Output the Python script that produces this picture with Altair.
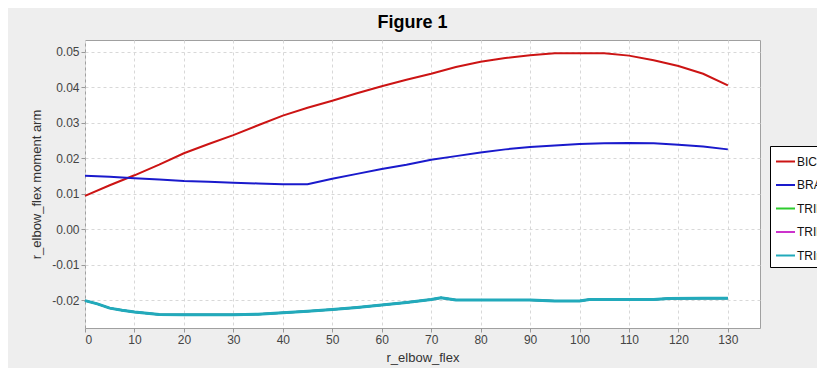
import altair as alt
import pandas as pd

# ---- data ----
x_main = [0, 5, 10, 15, 20, 25, 30, 35, 40, 45, 50, 55, 60, 65, 70, 75, 80, 85, 90,
          95, 100, 105, 110, 115, 120, 125, 130]
bic = [0.0094, 0.0124, 0.0152, 0.0182, 0.0214, 0.0240, 0.0265, 0.0293, 0.0320, 0.0342,
       0.0362, 0.0383, 0.0403, 0.0421, 0.0438, 0.0457, 0.0472, 0.0482, 0.0490, 0.0496,
       0.0496, 0.0496, 0.0489, 0.0476, 0.0460, 0.0438, 0.0405]
bra = [0.0151, 0.0148, 0.0144, 0.0140, 0.0136, 0.0134, 0.0131, 0.0129, 0.0127, 0.0127,
       0.0142, 0.0156, 0.0170, 0.0182, 0.0196, 0.0206, 0.0216, 0.0225, 0.0232, 0.0236,
       0.0240, 0.0242, 0.0243, 0.0242, 0.0238, 0.0233, 0.0225]
x_tri = [0, 2.5, 5, 7.5, 10, 15, 20, 25, 30, 35, 40, 45, 50, 55, 60, 65, 70, 72, 75,
         80, 85, 90, 95, 100, 102, 110, 115, 118, 125, 130]
tri = [-0.0201, -0.0210, -0.0222, -0.0228, -0.0233, -0.0240, -0.0241, -0.0241, -0.0241,
       -0.0239, -0.0235, -0.0231, -0.0226, -0.0220, -0.0213, -0.0206, -0.0198, -0.0193,
       -0.0199, -0.0199, -0.0199, -0.0199, -0.0202, -0.0202, -0.0198, -0.0198, -0.0198,
       -0.0195, -0.0194, -0.0194]

series_names = ["BIClong", "BRA", "TRIlong", "TRIlat", "TRImed"]
series_colors = ["#cc1414", "#1a1acc", "#2ecc2e", "#cc33cc", "#22aabb"]
x_ticks = list(range(0, 131, 10))
y_ticks = [-0.02, -0.01, 0.0, 0.01, 0.02, 0.03, 0.04, 0.05]

rows = []
for xv, yv in zip(x_main, bic):
    rows.append({"x": xv, "y": yv, "series": "BIClong"})
for xv, yv in zip(x_main, bra):
    rows.append({"x": xv, "y": yv, "series": "BRA"})
for name in ["TRIlong", "TRIlat", "TRImed"]:
    for xv, yv in zip(x_tri, tri):
        rows.append({"x": xv, "y": yv, "series": name})
df = pd.DataFrame(rows)

FONT = "Liberation Sans"

x_enc = alt.X("x:Q", title="r_elbow_flex",
              scale=alt.Scale(domain=[0, 136.5], nice=False, zero=False),
              axis=alt.Axis(values=x_ticks, format="d", grid=True))
y_enc = alt.Y("y:Q", title="r_elbow_flex moment arm",
              scale=alt.Scale(domain=[-0.0278, 0.0533], nice=False, zero=False),
              axis=alt.Axis(values=y_ticks,
                            labelExpr="replace(format(datum.value, '.2f'), '\u2212', '-')",
                            grid=True))
color_enc = alt.Color("series:N",
                      scale=alt.Scale(domain=series_names, range=series_colors),
                      legend=alt.Legend(title=None, orient="none", legendX=685, legendY=106,
                                        symbolType="stroke", symbolSize=361,
                                        symbolStrokeWidth=2, labelFontSize=12,
                                        labelFont=FONT, labelColor="#111111",
                                        rowPadding=6.5, padding=5, labelOffset=1,
                                        strokeColor="#000000", fillColor="#ffffff",
                                        labelLimit=200, symbolOffset=0))

base = alt.Chart(df).mark_line(strokeWidth=2).encode(
    x=x_enc, y=y_enc, color=color_enc, detail="series:N"
)
top = alt.Chart(df).transform_filter(alt.datum.series == "TRImed").mark_line(strokeWidth=3).encode(
    x=x_enc, y=y_enc, color=color_enc
)

chart = alt.layer(base, top).properties(
    width=675, height=288,
    title=alt.TitleParams("Figure 1", font=FONT, fontSize=18, fontWeight="bold",
                          color="#000000", anchor="middle", frame="group", dx=-10, offset=8),
    autosize=alt.AutoSizeParams(type="none"),
    padding={"left": 77, "top": 32, "right": 57, "bottom": 40},
    background="#eeeeee",
).configure_view(
    fill="#ffffff", stroke="#a0a0a0", strokeWidth=1
).configure_axis(
    labelFont=FONT, titleFont=FONT, labelFontSize=12, titleFontSize=13,
    labelColor="#444444", titleColor="#333333", titleFontWeight="normal",
    gridColor="#d8d8d8", gridDash=[3, 3], gridWidth=1,
    domain=False, tickColor="#999999", tickSize=4, labelPadding=2,
).configure_axisX(
    titlePadding=6
).configure_axisY(
    titlePadding=8
)

chart.save("out.html", embed_options={"renderer": "svg", "actions": False})
